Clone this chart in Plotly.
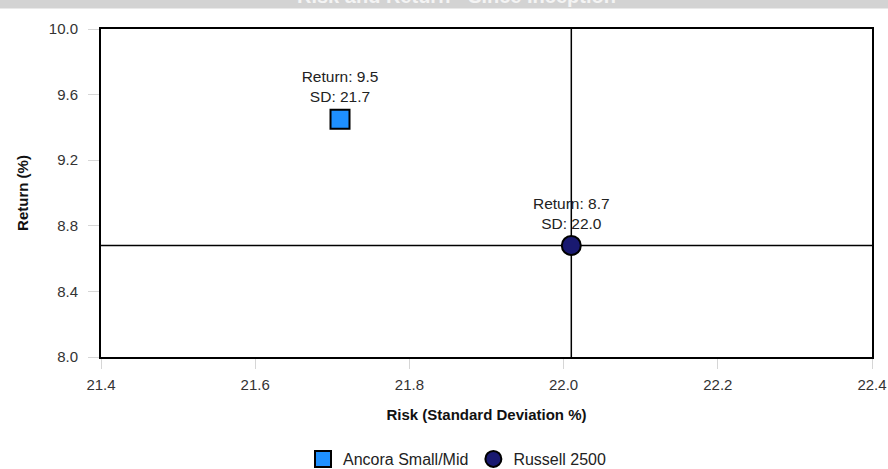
import math
import plotly.graph_objects as go

names = ["Ancora Small/Mid", "Russell 2500"]
risk = [21.71, 22.01]
ret = [9.45, 8.68]
colors = ["#1E90FF", "#191970"]
symbols = ["square", "circle"]
x_ticks = [21.4, 21.6, 21.8, 22.0, 22.2, 22.4]
y_ticks = [8.0, 8.4, 8.8, 9.2, 9.6, 10.0]


def r1(v):
    return f"{math.floor(v * 10 + 0.5) / 10:.1f}"


W, H = 888, 469
L, R, T, B = 101, 16, 29, 112
pw, ph = W - L - R, H - T - B
FONT = "Liberation Sans, Arial, sans-serif"

fig = go.Figure()
for n, xv, yv, c, s in zip(names, risk, ret, colors, symbols):
    fig.add_trace(go.Scatter(
        x=[xv], y=[yv], name=n, mode="markers+text",
        text=[f"Return: {r1(yv)}<br>SD: {r1(xv)}"],
        textposition="top center",
        textfont=dict(size=15.5, color="#222"),
        marker=dict(symbol=s, size=19, color=c, line=dict(color="black", width=2)),
        cliponaxis=False,
    ))

bench_x, bench_y = risk[1], ret[1]
fig.add_shape(type="line", xref="x", yref="paper", x0=bench_x, x1=bench_x, y0=0, y1=1,
              line=dict(color="black", width=1.5), layer="below")
fig.add_shape(type="line", xref="paper", yref="y", x0=0, x1=1, y0=bench_y, y1=bench_y,
              line=dict(color="black", width=1.5), layer="below")
# title band at the very top (title mostly cut off, as in the reference)
fig.add_shape(type="rect", xref="paper", yref="paper",
              x0=-L / pw, x1=1 + R / pw, y0=1 + (T - 8.5) / ph, y1=1 + (T + 10) / ph,
              fillcolor="#d3d3d3", line=dict(width=0), layer="below")
fig.add_annotation(text="<b>Risk and Return - Since Inception</b>", xref="paper", yref="paper",
                   x=(456 - L) / pw, y=1 + (T + 4) / ph, showarrow=False, yanchor="middle",
                   font=dict(size=20, color="#f4f4f4", family=FONT))

fig.update_layout(
    width=W, height=H, autosize=False,
    margin=dict(l=L, r=R, t=T, b=B, autoexpand=False),
    paper_bgcolor="white", plot_bgcolor="white",
    font=dict(family=FONT, size=15, color="#333"),
    showlegend=True,
    legend=dict(orientation="h", x=(457 - L) / pw, xanchor="center",
                y=-(459 - (T + ph)) / ph, yanchor="middle",
                font=dict(size=16, color="#222")),
    xaxis=dict(range=[21.4, 22.4], tickvals=x_ticks, ticktext=[f"{v:.1f}" for v in x_ticks],
               showgrid=False, zeroline=False, showline=True, mirror=True, automargin=False,
               linecolor="black", linewidth=2, ticks="outside", ticklen=10,
               tickcolor="#d6d6d6", tickwidth=1, ticklabelstandoff=3,
               title=dict(text="<b>Risk (Standard Deviation %)</b>", standoff=17,
                          font=dict(size=15, color="#111"))),
    yaxis=dict(range=[8.0, 10.0], tickvals=y_ticks, ticktext=[f"{v:.1f}" for v in y_ticks],
               showgrid=False, zeroline=False, showline=True, mirror=True, automargin=False,
               linecolor="black", linewidth=2, ticks="outside", ticklen=11,
               tickcolor="#d6d6d6", tickwidth=1, ticklabelstandoff=7,
               title=dict(text="<b>Return (%)</b>", standoff=17,
                          font=dict(size=15, color="#111"))),
)

fig.write_html("out.html",
               config={"responsive": False, "displayModeBar": False},
               post_script="document.body.style.margin='0';")
